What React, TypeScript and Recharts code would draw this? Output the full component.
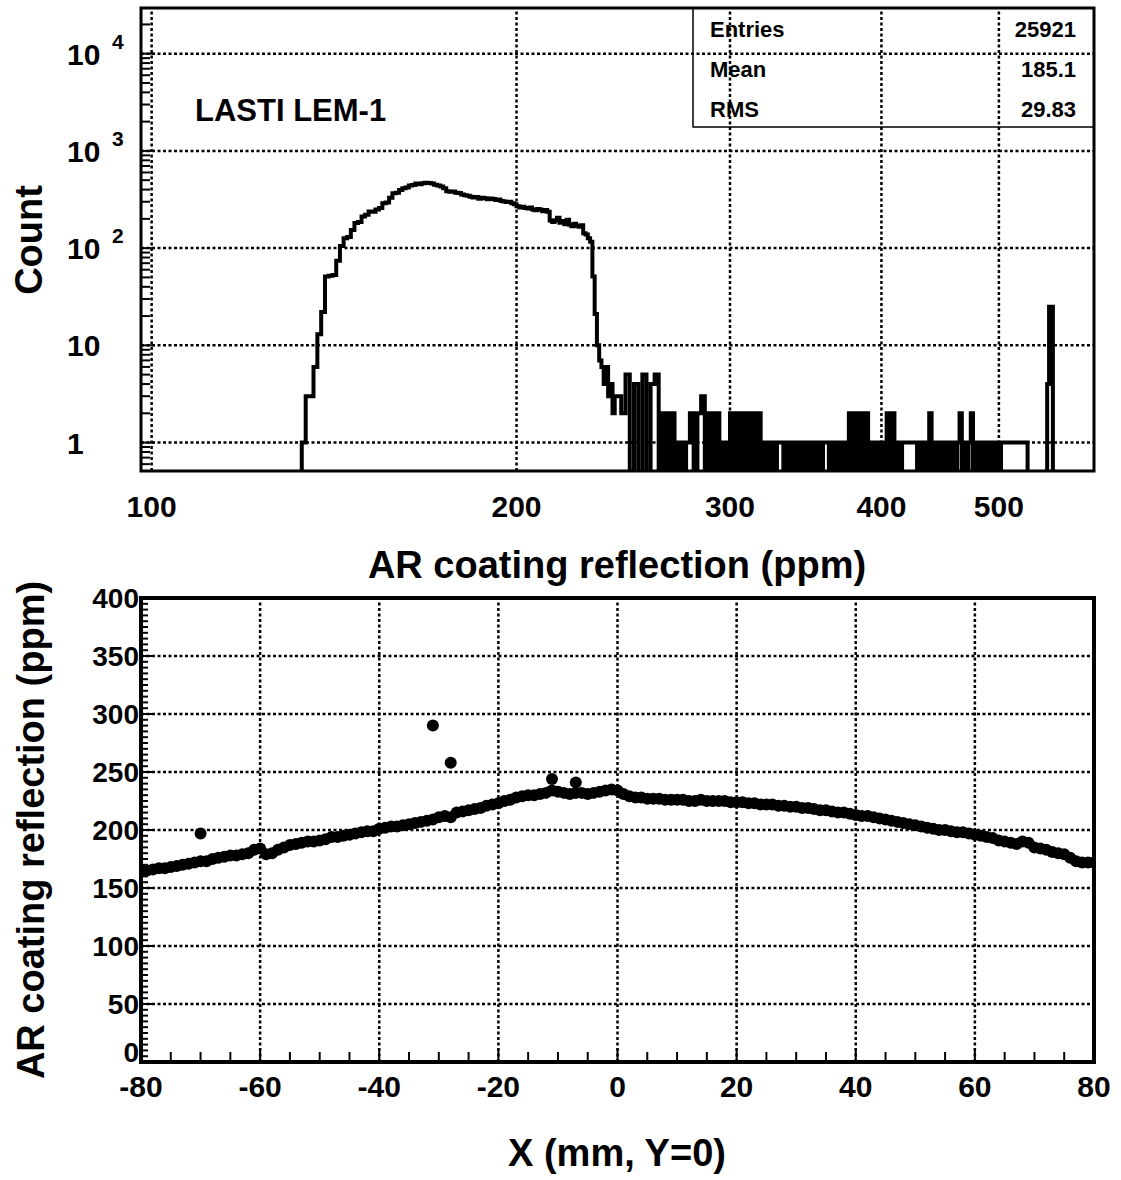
import React from 'react';
import {
  LineChart, Line, XAxis, YAxis, ReferenceLine, ReferenceArea,
  ScatterChart, Scatter,
} from 'recharts';

const FONT = '"Liberation Sans", Arial, Helvetica, sans-serif';

// ---------- top panel: AR reflection histogram ----------
// bulk of the distribution in 1 ppm bins
const BODY_START = 133;
const BODY_BIN = 1;
const bodyCounts = [
  1, 3, 3, 6, 13, 22, 51, 52, 53, 74, // 133-142
  105, 126, 130, 154, 181, 186, 211, 220, 238, 236, // 143-152
  250, 258, 290, 294, 330, 366, 372, 396, 414, 420, // 153-162
  440, 446, 462, 455, 466, 470, 468, 462, 448, 440, // 163-172
  430, 412, 384, 380, 382, 372, 368, 356, 350, 346, // 173-182
  338, 332, 336, 322, 330, 326, 318, 324, 320, 312, // 183-192
  316, 306, 302, 298, 300, 290, 282, 270, 262, 266, // 193-202
  258, 255, 262, 250, 245, 252, 248, 240, 246, 236, // 203-212
  192, 186, 194, 205, 182, 190, 176, 196, 174, 168, // 213-222
  178, 170, 166, 172, 142, 138, 126, 116, 51, 21, // 223-232
  10, 7, 6, 4, 6, 3, 4, 2, 3, // 233-241
];
// sparse tail in 2 ppm bins
const TAIL_START = 242;
const TAIL_BIN = 2;
const tailCounts = [
  3, 2, 5, 0, 4, 0, 5, 0, 4, 5, // 242-260
  0, 2, 0, 2, 0, 1, 0, 1, 2, 0, // 262-280
  2, 3, 0, 2, 0, 2, 0, 1, 0, 2, // 282-300
  0, 2, 0, 2, 0, 2, 0, 2, 0, 1, // 302-320
  0, 1, 0, 1, 1, 0, 1, 0, 1, 0, // 322-340
  1, 0, 1, 0, 1, 0, 1, 0, 1, 1, // 342-360
  0, 1, 0, 1, 0, 1, 0, 2, 0, 2, // 362-380
  0, 2, 0, 2, 0, 1, 0, 1, 0, 1, // 382-400
  0, 2, 0, 2, 0, 1, 0, 1, 1, 1, // 402-420
  1, 1, 1, 0, 1, 0, 1, 0, 2, 0, // 422-440
  1, 0, 1, 0, 1, 0, 1, 0, 1, 0, // 442-460
  1, 2, 0, 1, 0, 1, 2, 0, 1, 0, // 462-480
  1, 0, 1, 0, 1, 0, 1, 0, 1, 0, // 482-500
  1, 1, 1, 1, 1, 1, 1, 1, 1, 1, // 502-520
  1, 1, 1, 0, 0, 0, 0, 0, 0, 0, // 522-540
  0, 0, 0, 4, 25, 25, 0, // 542-554
];
const HIST_MIN = 98;
const HIST_MAX = 599;
const COUNT_MIN = 0.51;
const COUNT_MAX = 29500;
const EMPTY = 0.1; // empty bins drop below the frame

const histXTicks = [100, 200, 300, 400, 500];
const histYMajor = [1, 10, 100, 1000, 10000];
const histYMinor = [
  0.6, 0.7, 0.8, 0.9, 2, 3, 4, 5, 6, 7, 8, 9, 20, 30, 40, 50, 60, 70, 80, 90,
  200, 300, 400, 500, 600, 700, 800, 900, 2000, 3000, 4000, 5000, 6000, 7000,
  8000, 9000, 20000,
];
const statLabels = ['Entries', 'Mean', 'RMS'];
const statValues = ['25921', '185.1', '29.83'];

// ---------- bottom panel: scan along X at Y=0 ----------
const SCAN_START = -80;
const SCAN_STEP = 1;
const scanValues = [
  165, 165, 166, 167, 167, 168, 169, 170, 171, 172, // -80..-71
  173, 173, 175, 176, 177, 178, 178, 179, 180, 183, // -70..-61
  184, 179, 180, 183, 185, 187, 188, 189, 190, 190, // -60..-51
  191, 192, 194, 194, 195, 196, 197, 198, 199, 199, // -50..-41
  201, 202, 203, 203, 204, 205, 206, 207, 208, 209, // -40..-31
  211, 212, 211, 215, 216, 217, 218, 219, 221, 222, // -30..-21
  223, 225, 226, 228, 229, 230, 230, 231, 232, 234, // -20..-11
  233, 232, 231, 232, 232, 231, 232, 233, 234, 235, // -10..-1
  234, 231, 229, 228, 228, 227, 227, 227, 226, 226, // 0..9
  226, 226, 225, 225, 226, 225, 225, 225, 225, 224, // 10..19
  224, 224, 223, 223, 222, 222, 222, 221, 221, 220, // 20..29
  220, 219, 219, 218, 217, 217, 216, 215, 215, 214, // 30..39
  213, 212, 212, 211, 210, 209, 208, 207, 206, 205, // 40..49
  204, 203, 202, 201, 200, 200, 199, 198, 198, 197, // 50..59
  196, 195, 194, 193, 191, 190, 189, 188, 190, 189, // 60..69
  185, 184, 183, 181, 180, 179, 176, 173, 172, 172, // 70..79
  172, // 80
];
const outlierX = [-70, -31, -28, -11, -7];
const outlierY = [197, 290, 258, 244, 241];

const scanXTicks = [-80, -75, -70, -65, -60, -55, -50, -45, -40, -35, -30, -25, -20, -15, -10, -5,
  0, 5, 10, 15, 20, 25, 30, 35, 40, 45, 50, 55, 60, 65, 70, 75, 80];
const scanXLabels = [-80, -60, -40, -20, 0, 20, 40, 60, 80];
const scanXGrid = [-60, -40, -20, 0, 20, 40, 60];
const scanYTicks = [0, 5, 10, 15, 20, 25, 30, 35, 40, 45, 50, 55, 60, 65, 70, 75, 80, 85, 90, 95,
  100, 105, 110, 115, 120, 125, 130, 135, 140, 145, 150, 155, 160, 165, 170, 175, 180, 185, 190, 195,
  200, 205, 210, 215, 220, 225, 230, 235, 240, 245, 250, 255, 260, 265, 270, 275, 280, 285, 290, 295,
  300, 305, 310, 315, 320, 325, 330, 335, 340, 345, 350, 355, 360, 365, 370, 375, 380, 385, 390, 395, 400];
const scanYLabels = [0, 50, 100, 150, 200, 250, 300, 350, 400];
const scanYGrid = [50, 100, 150, 200, 250, 300, 350];

// ---------- data tables ----------
const histData: { x: number; y: number }[] = [{ x: HIST_MIN, y: EMPTY }];
bodyCounts.forEach((c, i) => histData.push({ x: BODY_START + i * BODY_BIN, y: c || EMPTY }));
tailCounts.forEach((c, i) => histData.push({ x: TAIL_START + i * TAIL_BIN, y: c || EMPTY }));
histData.push({ x: TAIL_START + tailCounts.length * TAIL_BIN, y: EMPTY });
histData.push({ x: HIST_MAX, y: EMPTY });

const scanData = scanValues.map((v, i) => ({ x: SCAN_START + i * SCAN_STEP, y: v }));
const outlierData = outlierX.map((x, i) => ({ x, y: outlierY[i] }));

// layout
const W = 1121;
const TOP_H = 600;
const TOP_MARGIN = { top: 8, right: 27, left: 0, bottom: 0 };
const Y_AXIS_W = 141;
const TOP_X_AXIS_H = 129;
const TOP_PLOT_BOTTOM = TOP_H - TOP_X_AXIS_H;

const BOT_TOP = 560;
const BOT_H = 620;
const BOT_MARGIN = { top: 38, right: 27, left: 0, bottom: 0 };
const BOT_X_AXIS_H = 118;
const BOT_PLOT_BOTTOM = BOT_H - BOT_X_AXIS_H;

const txt = { fontFamily: FONT, fontWeight: 'bold' as const, fill: '#000' };
const GRID = { stroke: '#000', strokeWidth: 2.5, strokeDasharray: '3 2.5' };

const TopXTick = (props: any) => (
  <text x={props.x} y={TOP_PLOT_BOTTOM + 46} textAnchor="middle" fontSize={30} {...txt}>
    {props.payload.value}
  </text>
);

const TopYTick = (props: any) => {
  const { y, payload } = props;
  const v = payload.value;
  const major = histYMajor.includes(v);
  const exp = Math.round(Math.log10(v));
  return (
    <g>
      <line x1={Y_AXIS_W} x2={Y_AXIS_W + (major ? 14 : 9)} y1={y} y2={y} stroke="#000" strokeWidth={2} />
      {major && (
        <text x={67} y={y + 11} fontSize={30} {...txt}>
          {exp === 0 ? '1' : '10'}
        </text>
      )}
      {major && exp >= 2 && (
        <text x={112} y={y - 5} fontSize={21} {...txt}>
          {exp}
        </text>
      )}
    </g>
  );
};

const BotXTick = (props: any) => {
  const { x, payload } = props;
  const v = payload.value;
  const major = scanXLabels.includes(v);
  return (
    <g>
      <line x1={x} x2={x} y1={BOT_PLOT_BOTTOM} y2={BOT_PLOT_BOTTOM - (major ? 14 : 10)} stroke="#000" strokeWidth={2} />
      {major && (
        <text x={x} y={BOT_PLOT_BOTTOM + 35} textAnchor="middle" fontSize={30} {...txt}>
          {v}
        </text>
      )}
    </g>
  );
};

const BotYTick = (props: any) => {
  const { y, payload } = props;
  const v = payload.value;
  const major = scanYLabels.includes(v);
  // the zero label sits a little higher so it clears the -80 below it
  const base = v === 0 ? y : y + 10;
  return (
    <g>
      <line x1={Y_AXIS_W} x2={Y_AXIS_W + (major ? 14 : 7)} y1={y} y2={y} stroke="#000" strokeWidth={2} />
      {major && (
        <text x={139} y={base} textAnchor="end" fontSize={28} {...txt}>
          {v}
        </text>
      )}
    </g>
  );
};

const Dot = (props: any) => <circle cx={props.cx} cy={props.cy} r={6} fill="#000" />;

export default function App() {
  return (
    <div style={{ position: 'absolute', left: 0, top: 0, width: W, height: 1180, background: '#fff' }}>
      <div style={{ position: 'absolute', left: 0, top: 0 }}>
        <LineChart width={W} height={TOP_H} data={histData} margin={TOP_MARGIN}>
          <XAxis
            dataKey="x" type="number" scale="log" domain={[HIST_MIN, HIST_MAX]} allowDataOverflow
            ticks={histXTicks} interval={0} tick={<TopXTick />} tickLine={false} axisLine={false}
            height={TOP_X_AXIS_H}
          />
          <YAxis
            type="number" scale="log" domain={[COUNT_MIN, COUNT_MAX]} allowDataOverflow
            ticks={[...histYMajor, ...histYMinor].sort((a, b) => a - b)} interval={0}
            tick={<TopYTick />} tickLine={false} axisLine={false} width={Y_AXIS_W}
          />
          {histYMajor.map((v) => <ReferenceLine key={'hy' + v} y={v} {...GRID} />)}
          {histXTicks.map((v) => <ReferenceLine key={'hx' + v} x={v} {...GRID} />)}
          <Line
            dataKey="y" type="stepAfter" stroke="#000" strokeWidth={4} dot={false}
            isAnimationActive={false}
          />
          <ReferenceArea
            x1={HIST_MIN} x2={HIST_MAX} y1={COUNT_MIN} y2={COUNT_MAX} ifOverflow="visible"
            fill="none" fillOpacity={0} stroke="#000" strokeWidth={3}
          />
          <text x={195} y={121} fontSize={31} {...txt}>LASTI LEM-1</text>
          <rect x={693} y={8} width={W - TOP_MARGIN.right - 693} height={119} fill="none" stroke="#000" strokeWidth={1.5} />
          {statLabels.map((s, i) => (
            <text key={s} x={710} y={37 + i * 40} fontSize={22} {...txt}>{s}</text>
          ))}
          {statValues.map((s, i) => (
            <text key={s} x={1076} y={37 + i * 40} fontSize={22} textAnchor="end" {...txt}>{s}</text>
          ))}
          <text x={617} y={578} fontSize={38} textAnchor="middle" {...txt}>AR coating reflection (ppm)</text>
          <text x={42} y={240} fontSize={38} textAnchor="middle" transform="rotate(-90 42 240)" {...txt}>Count</text>
        </LineChart>
      </div>
      <div style={{ position: 'absolute', left: 0, top: BOT_TOP }}>
        <ScatterChart width={W} height={BOT_H} margin={BOT_MARGIN}>
          <XAxis
            dataKey="x" type="number" domain={[-80, 80]} allowDataOverflow ticks={scanXTicks} interval={0}
            tick={<BotXTick />} tickLine={false} axisLine={false} height={BOT_X_AXIS_H}
          />
          <YAxis
            dataKey="y" type="number" domain={[0, 400]} allowDataOverflow ticks={scanYTicks} interval={0}
            tick={<BotYTick />} tickLine={false} axisLine={false} width={Y_AXIS_W}
          />
          {scanYGrid.map((v) => <ReferenceLine key={'sy' + v} y={v} {...GRID} />)}
          {scanXGrid.map((v) => <ReferenceLine key={'sx' + v} x={v} {...GRID} />)}
          <Scatter data={scanData} shape={<Dot />} isAnimationActive={false} />
          <Scatter data={outlierData} shape={<Dot />} isAnimationActive={false} />
          <ReferenceArea
            x1={-80} x2={80} y1={0} y2={400} ifOverflow="visible"
            fill="none" fillOpacity={0} stroke="#000" strokeWidth={4}
          />
          <text x={617} y={606} fontSize={38} textAnchor="middle" {...txt}>X (mm, Y=0)</text>
          <text x={44} y={270} fontSize={38} textAnchor="middle" transform="rotate(-90 44 270)" {...txt}>
            AR coating reflection (ppm)
          </text>
        </ScatterChart>
      </div>
    </div>
  );
}
